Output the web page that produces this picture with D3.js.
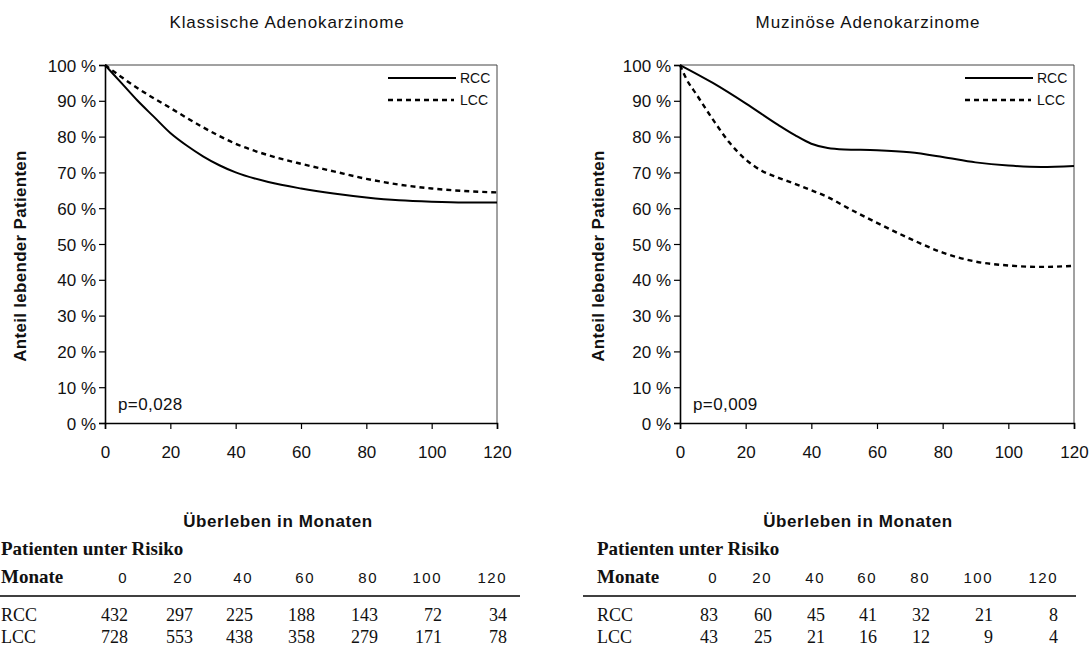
<!DOCTYPE html>
<html>
<head>
<meta charset="utf-8">
<script src="https://cdn.jsdelivr.net/npm/d3@7"></script>
<style>
  body { margin: 0; background: #fff; }
  svg { display: block; }
  .tick text { font-family: "Liberation Sans", Arial, sans-serif; font-size: 17px; fill: #111; }
  .sans { font-family: "Liberation Sans", Arial, sans-serif; fill: #111; }
  .serif { font-family: "Liberation Serif", "Times New Roman", serif; fill: #111; }
</style>
</head>
<body>
<div id="chart"></div>
<script>
var months_kl = [0, 5, 10, 15, 20, 25, 30, 35, 40, 50, 60, 70, 80, 90, 100, 110, 120];
var rcc_kl    = [100, 95, 90, 85.5, 81, 77.5, 74.5, 72, 70, 67.3, 65.5, 64.1, 63, 62.2, 61.8, 61.6, 61.6];
var months_kl2 = [0, 10, 20, 30, 40, 50, 60, 70, 80, 90, 100, 110, 120];
var lcc_kl    = [100, 93.5, 88, 82.6, 78, 74.8, 72.4, 70.3, 68.2, 66.6, 65.5, 64.8, 64.4];

var months_mu_r = [0, 10, 20, 30, 35, 40, 45, 50, 60, 70, 80, 90, 100, 110, 120];
var rcc_mu      = [100, 95, 89.3, 83.2, 80.4, 78, 76.8, 76.4, 76.2, 75.6, 74.3, 72.8, 71.9, 71.5, 71.8];
var months_mu_l = [0, 2, 5, 10, 15, 20, 25, 30, 35, 40, 45, 50, 60, 70, 80, 90, 100, 110, 120];
var lcc_mu      = [100, 96, 91.8, 84.8, 78.4, 73.6, 70.4, 68.5, 66.8, 65, 63.1, 60.6, 55.9, 51.5, 47.6, 45.1, 44, 43.6, 43.9];

var xTicks = [0, 20, 40, 60, 80, 100, 120];
var yTicks = [0, 10, 20, 30, 40, 50, 60, 70, 80, 90, 100];

// Patienten unter Risiko
var riskMonths = [0, 20, 40, 60, 80, 100, 120];
var risk_kl_rcc = [432, 297, 225, 188, 143, 72, 34];
var risk_kl_lcc = [728, 553, 438, 358, 279, 171, 78];
var risk_mu_rcc = [83, 60, 45, 41, 32, 21, 8];
var risk_mu_lcc = [43, 25, 21, 16, 12, 9, 4];

var width = 1091, height = 648;
var svg = d3.select("#chart").append("svg")
  .attr("width", width)
  .attr("height", height);

function zip(xs, ys) { return xs.map((m, i) => ({m: m, v: ys[i]})); }

function panel(o) {
  var x = d3.scaleLinear().domain([0, 120]).range([o.left, o.right]);
  var y = d3.scaleLinear().domain([0, 100]).range([423, 65]);

  // Rahmen oben/rechts
  svg.append("line").attr("x1", x(0)).attr("x2", x(120)).attr("y1", y(100)).attr("y2", y(100))
    .attr("stroke", "#444").attr("stroke-width", 1);
  svg.append("line").attr("x1", x(120)).attr("x2", x(120)).attr("y1", y(100)).attr("y2", y(0))
    .attr("stroke", "#444").attr("stroke-width", 1);

  var yAxis = d3.axisLeft(y).tickValues(yTicks).tickSize(6).tickPadding(3)
    .tickFormat(d => d + " %");
  var gy = svg.append("g").attr("transform", `translate(${x(0)},0)`).call(yAxis);
  gy.select(".domain").attr("stroke", "#000").attr("stroke-width", 1.6);
  gy.selectAll(".tick line").attr("stroke", "#000").attr("stroke-width", 1.2);
  gy.selectAll(".tick text").attr("dy", "0.36em");

  var xAxis = d3.axisBottom(x).tickValues(xTicks).tickSize(6).tickPadding(17);
  var gx = svg.append("g").attr("transform", `translate(0,${y(0)})`).call(xAxis);
  gx.select(".domain").attr("stroke", "#000").attr("stroke-width", 1.6);
  gx.selectAll(".tick line").attr("stroke", "#000").attr("stroke-width", 1.2);

  var line = d3.line().x(d => x(d.m)).y(d => y(d.v)).curve(d3.curveMonotoneX);

  svg.append("path").datum(o.rcc).attr("d", line)
    .attr("fill", "none").attr("stroke", "#000").attr("stroke-width", 2);
  svg.append("path").datum(o.lcc).attr("d", line)
    .attr("fill", "none").attr("stroke", "#000").attr("stroke-width", 2.4)
    .attr("stroke-dasharray", "5,4");

  // Legende
  svg.append("line").attr("x1", o.legX).attr("x2", o.legX + 68).attr("y1", 78).attr("y2", 78)
    .attr("stroke", "#000").attr("stroke-width", 2);
  svg.append("line").attr("x1", o.legX).attr("x2", o.legX + 66).attr("y1", 100).attr("y2", 100)
    .attr("stroke", "#000").attr("stroke-width", 2.4).attr("stroke-dasharray", "5,4");
  svg.append("text").attr("class", "sans").attr("x", o.legX + 72).attr("y", 83)
    .style("font-size", "14px").text("RCC");
  svg.append("text").attr("class", "sans").attr("x", o.legX + 72).attr("y", 105)
    .style("font-size", "14px").text("LCC");

  svg.append("text").attr("class", "sans").attr("x", x(0) + 13).attr("y", 410)
    .style("font-size", "17px").style("letter-spacing", "0.4px").text(o.p);

  svg.append("text").attr("class", "sans").attr("x", o.titleX).attr("y", 28)
    .attr("text-anchor", "middle").style("font-size", "17px").style("letter-spacing", "0.9px")
    .text(o.title);

  svg.append("text").attr("class", "sans").attr("x", o.xTitleX).attr("y", 527)
    .attr("text-anchor", "middle").style("font-size", "17px").style("font-weight", "bold")
    .style("letter-spacing", "0.6px").text("Überleben in Monaten");

  svg.append("text").attr("class", "sans")
    .attr("transform", `translate(${o.yTitleX},256) rotate(-90)`)
    .attr("text-anchor", "middle").style("font-size", "17px").style("font-weight", "bold")
    .style("letter-spacing", "0.3px").text("Anteil lebender Patienten");
}

function table(o) {
  var cx = d3.scaleOrdinal().domain(riskMonths).range(o.cols);
  svg.append("text").attr("class", "serif").attr("x", o.labelX).attr("y", 555)
    .style("font-size", "19px").style("font-weight", "bold").text("Patienten unter Risiko");
  svg.append("text").attr("class", "serif").attr("x", o.labelX).attr("y", 583)
    .style("font-size", "19px").style("font-weight", "bold").text("Monate");
  svg.selectAll(null).data(riskMonths).enter().append("text")
    .attr("class", "sans").attr("x", d => cx(d)).attr("y", 583)
    .attr("text-anchor", "end").style("font-size", "15px").style("letter-spacing", "1.5px")
    .text(d => d);
  svg.append("line").attr("x1", o.lineX[0]).attr("x2", o.lineX[1]).attr("y1", 596).attr("y2", 596)
    .attr("stroke", "#000").attr("stroke-width", 1.6);

  [["RCC", o.rcc, 621], ["LCC", o.lcc, 643]].forEach(function(r) {
    svg.append("text").attr("class", "serif").attr("x", o.labelX).attr("y", r[2])
      .style("font-size", "18px").text(r[0]);
    svg.selectAll(null).data(r[1]).enter().append("text")
      .attr("class", "serif").attr("x", (d, i) => cx(riskMonths[i])).attr("y", r[2])
      .attr("text-anchor", "end").style("font-size", "18px")
      .text(d => d);
  });
}

panel({
  left: 105, right: 497, legX: 388, titleX: 287, xTitleX: 278, yTitleX: 26,
  title: "Klassische Adenokarzinome", p: "p=0,028",
  rcc: zip(months_kl, rcc_kl), lcc: zip(months_kl2, lcc_kl)
});
panel({
  left: 680, right: 1074, legX: 965, titleX: 868, xTitleX: 858, yTitleX: 604,
  title: "Muzinöse Adenokarzinome", p: "p=0,009",
  rcc: zip(months_mu_r, rcc_mu), lcc: zip(months_mu_l, lcc_mu)
});

table({labelX: 1, lineX: [0, 520], cols: [128, 193, 253, 315, 378, 442, 507],
  rcc: risk_kl_rcc, lcc: risk_kl_lcc});
table({labelX: 597, lineX: [583, 1076], cols: [718, 772, 825, 877, 930, 993, 1058],
  rcc: risk_mu_rcc, lcc: risk_mu_lcc});
</script>
</body>
</html>
